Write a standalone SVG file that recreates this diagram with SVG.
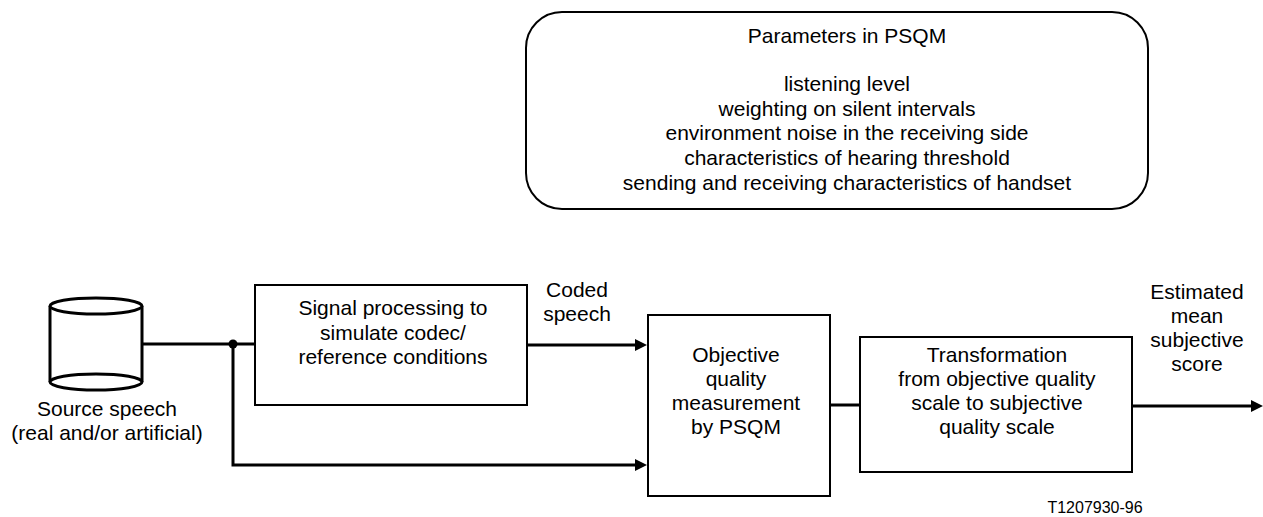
<svg xmlns="http://www.w3.org/2000/svg" width="1263" height="517" viewBox="0 0 1263 517">
  <style>
    text { font-family: "Liberation Sans", Arial, sans-serif; font-size: 21px; fill: #000; text-anchor: middle; }
    .small { font-size: 16px; }
    .box { fill: #fff; stroke: #000; stroke-width: 2; }
    .cyl { fill: #fff; stroke: #000; stroke-width: 3; }
    .conn { fill: none; stroke: #000; stroke-width: 3; }
  </style>
  <defs>
    <marker id="arrow" markerUnits="userSpaceOnUse" markerWidth="12" markerHeight="12" refX="2" refY="6" orient="auto">
      <path d="M0,0 L12,6 L0,12 z" fill="#000"/>
    </marker>
  </defs>
  <rect width="1263" height="517" fill="#fff"/>

  <g id="params">
    <rect class="box" x="526" y="12" width="622" height="197" rx="36" ry="36"/>
    <text x="847" y="43">Parameters in PSQM</text>
    <text x="847" y="91">listening level</text>
    <text x="847" y="116">weighting on silent intervals</text>
    <text x="847" y="140">environment noise in the receiving side</text>
    <text x="847" y="165">characteristics of hearing threshold</text>
    <text x="847" y="190">sending and receiving characteristics of handset</text>
  </g>

  <g id="source">
    <path class="cyl" d="M50,306 L50,382 M142,306 L142,382"/>
    <ellipse class="cyl" cx="96" cy="306" rx="46" ry="8"/>
    <ellipse class="cyl" cx="96" cy="382" rx="46" ry="8"/>
    <text x="107" y="416">Source speech</text>
    <text x="107" y="440">(real and/or artificial)</text>
  </g>

  <g id="signal">
    <rect class="box" x="255" y="285" width="272" height="120"/>
    <text x="393" y="315">Signal processing to</text>
    <text x="393" y="340">simulate codec/</text>
    <text x="393" y="364">reference conditions</text>
  </g>

  <g id="objective">
    <rect class="box" x="648" y="315" width="182" height="181"/>
    <text x="736" y="362">Objective</text>
    <text x="736" y="386">quality</text>
    <text x="736" y="410">measurement</text>
    <text x="736" y="434">by PSQM</text>
  </g>

  <g id="transform">
    <rect class="box" x="860" y="337" width="272" height="135"/>
    <text x="997" y="362">Transformation</text>
    <text x="997" y="386">from objective quality</text>
    <text x="997" y="410">scale to subjective</text>
    <text x="997" y="434">quality scale</text>
  </g>

  <g id="connectors">
    <line class="conn" x1="142" y1="344" x2="255" y2="344"/>
    <circle cx="233" cy="344" r="4.5" fill="#000"/>
    <path class="conn" d="M233,344 L233,465 L637,465" marker-end="url(#arrow)"/>
    <line class="conn" x1="527" y1="345" x2="637" y2="345" marker-end="url(#arrow)"/>
    <line class="conn" x1="830" y1="405" x2="860" y2="405"/>
    <line class="conn" x1="1132" y1="406" x2="1253" y2="406" marker-end="url(#arrow)"/>
  </g>

  <g id="labels">
    <text x="577" y="297">Coded</text>
    <text x="577" y="321">speech</text>
    <text x="1197" y="299">Estimated</text>
    <text x="1197" y="323">mean</text>
    <text x="1197" y="347">subjective</text>
    <text x="1197" y="371">score</text>
    <text class="small" x="1095" y="513">T1207930-96</text>
  </g>
</svg>
